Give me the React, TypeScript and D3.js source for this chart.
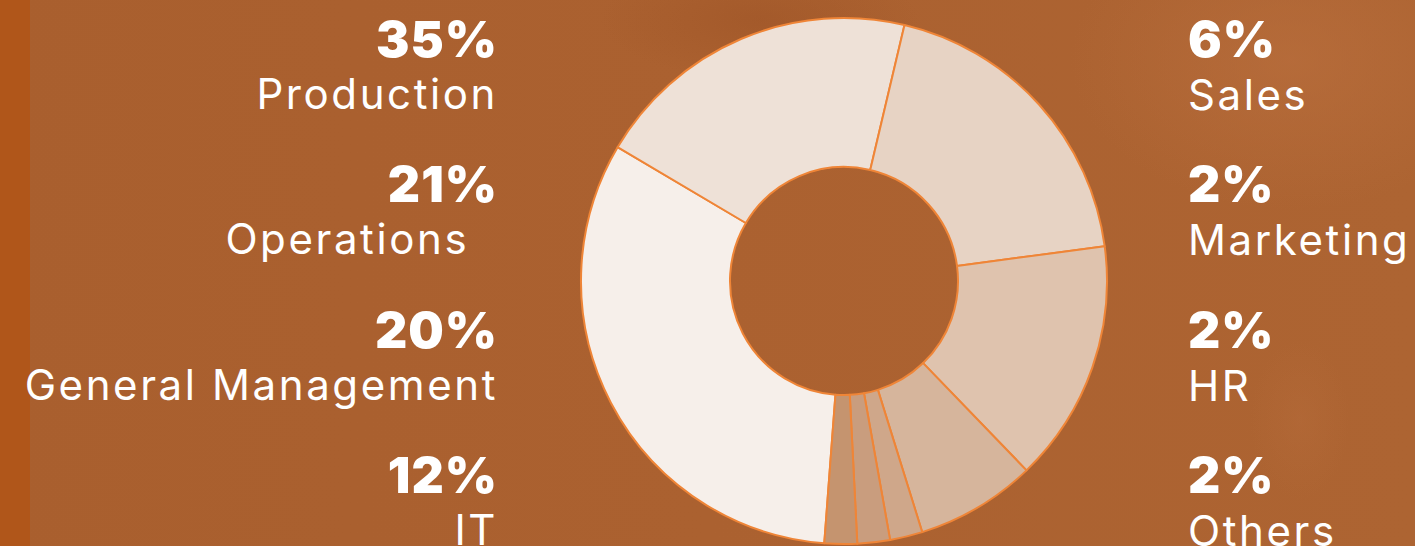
import { useMemo } from 'react';
import * as d3 from 'd3';

const departments = ['Production', 'Operations', 'General Management', 'IT', 'Sales', 'Marketing', 'HR', 'Others'];
// printed percentages
const shares = [35, 21, 20, 12, 6, 2, 2, 2];
// slice sizes as drawn in the ring
const sliceShares = [32.3, 20.2, 19.2, 14.9, 7.4, 2, 2, 2];
const sliceColors = ['#f6efea', '#eee1d7', '#e7d3c4', '#dfc3ae', '#d6b59c', '#cfa78a', '#c99d7e', '#c5946f'];
// label suffix padding used in the original layout
const labelPad = ['', '\u00a0\u00a0', '', '', '', '', '', ''];

const W = 1415;
const H = 546;
const FONT = 'Inter, "Noto Sans", sans-serif';

export default function App() {
  const cx = 844, cy = 281;
  const rOuter = 263, rInner = 114;

  const arcs = useMemo(() => {
    const a0 = (184.3 / 180) * Math.PI;
    const pie = d3.pie<number>().sort(null).value(d => d)
      .startAngle(a0).endAngle(a0 + 2 * Math.PI);
    return pie(sliceShares);
  }, []);

  const arc = d3.arc<d3.PieArcDatum<number>>().innerRadius(rInner).outerRadius(rOuter);

  // row baselines for the percentage figures
  const rowY = d3.scaleLinear().domain([0, 3]).range([57, 493]);
  const leftX = 498;
  const rightX = 1188;

  return (
    <svg width={W} height={H} style={{ position: 'absolute', left: 0, top: 0, display: 'block' }}>
      <defs>
        <linearGradient id="bg" x1="0" y1="0" x2="1" y2="0">
          <stop offset="0" stopColor="#a95f2e" />
          <stop offset="0.5" stopColor="#ab6130" />
          <stop offset="1" stopColor="#ad6432" />
        </linearGradient>
        <radialGradient id="glowTR" cx="0.5" cy="0.5" r="0.5">
          <stop offset="0" stopColor="#b96e3d" stopOpacity="0.7" />
          <stop offset="1" stopColor="#b96e3d" stopOpacity="0" />
        </radialGradient>
        <radialGradient id="glowDark" cx="0.5" cy="0.5" r="0.5">
          <stop offset="0" stopColor="#9c5225" stopOpacity="0.5" />
          <stop offset="1" stopColor="#9c5225" stopOpacity="0" />
        </radialGradient>
      </defs>
      <rect x={0} y={0} width={W} height={H} fill="url(#bg)" />
      <ellipse cx={1290} cy={60} rx={220} ry={150} fill="url(#glowTR)" />
      <ellipse cx={760} cy={20} rx={160} ry={60} fill="url(#glowDark)" />
      <ellipse cx={1300} cy={420} rx={50} ry={80} fill="url(#glowTR)" opacity={0.5} />
      <rect x={0} y={0} width={30} height={H} fill="#b0561a" />

      <g transform={`translate(${cx},${cy})`}>
        {arcs.map((d, i) => (
          <path key={departments[i]} d={arc(d) ?? ''} fill={sliceColors[i]}
            stroke="#ef8537" strokeWidth={2} strokeLinejoin="round" />
        ))}
      </g>

      {departments.map((name, i) => {
        const left = i < 4;
        const row = i % 4;
        const x = left ? leftX : rightX;
        const y = rowY(row);
        return (
          <g key={name} fill="#ffffff" fontFamily={FONT} textAnchor={left ? 'end' : 'start'}>
            <text x={x} y={y} fontSize={50} fontWeight={900} letterSpacing={1}>{`${shares[i]}%`}</text>
            <text x={x} y={y + (left ? 52 : 53)} fontSize={42} fontWeight={400} letterSpacing={2.6}>
              {name + labelPad[i]}
            </text>
          </g>
        );
      })}
    </svg>
  );
}
